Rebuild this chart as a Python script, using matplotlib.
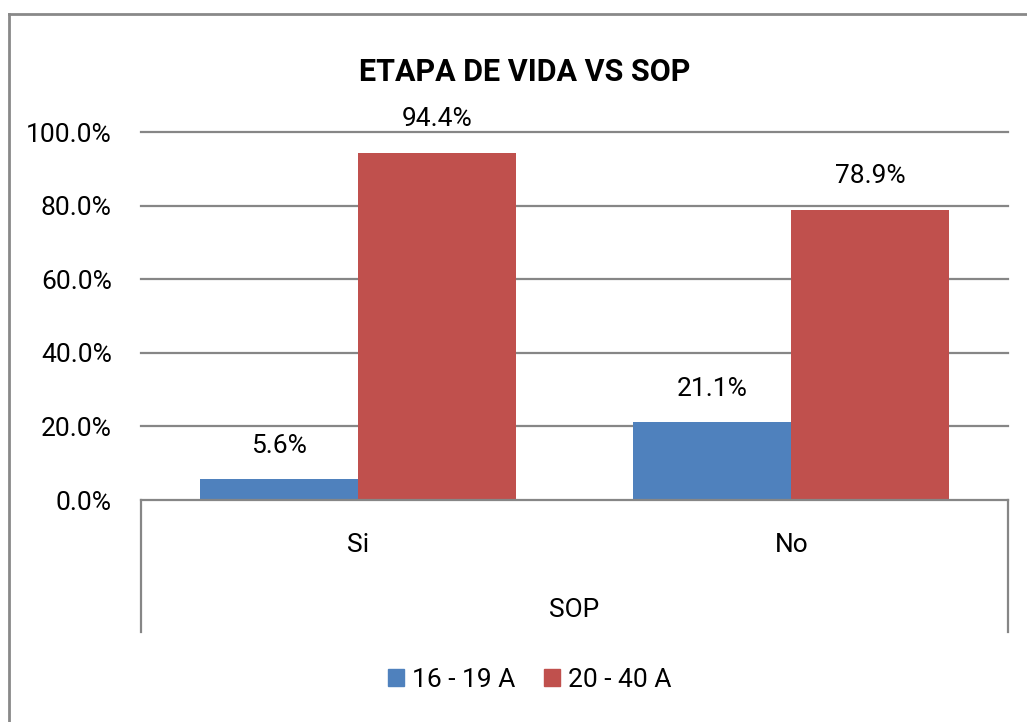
import matplotlib
matplotlib.use("Agg")
import matplotlib.pyplot as plt
from matplotlib.lines import Line2D
from matplotlib.patches import Patch

plt.rcParams['font.family'] = ['Roboto', 'DejaVu Sans']

categories = ['Si', 'No']
series = ['16 - 19 A', '20 - 40 A']
vals_1619 = [5.6, 21.1]
vals_2040 = [94.4, 78.9]
yticks = [0, 20, 40, 60, 80, 100]
colors = ['#4F81BD', '#C0504D']
grid_col = '#868686'

fig = plt.figure(figsize=(10.27, 7.22), dpi=100)
ax = fig.add_axes([141/1027, 1-500/722, (1008-141)/1027, (500-132)/722])

w = 0.3645
x = list(range(len(categories)))
for i, (vals, c) in enumerate(zip([vals_1619, vals_2040], colors)):
    xs = [xi + (i - 0.5) * w for xi in x]
    ax.bar(xs, vals, width=w, color=c, zorder=3, label=series[i])
    for xx, v in zip(xs, vals):
        ax.annotate(f'{v:.1f}%', (xx, v), xytext=(0, 24), textcoords='offset points',
                    ha='center', va='center', fontsize=19, color='black')

ax.set_xlim(-0.5, 1.5)
ax.set_ylim(0, 100)
ax.set_yticks(yticks)
ax.set_yticklabels([f'{t:.1f}%' for t in yticks], fontsize=19)
ax.tick_params(axis='y', length=0, pad=21)
ax.set_xticks([])
for s in ['left', 'right', 'top']:
    ax.spines[s].set_visible(False)
ax.spines['bottom'].set_color(grid_col)
ax.spines['bottom'].set_linewidth(1.6)
ax.spines['bottom'].set_zorder(4)
for t in yticks[1:]:
    ax.axhline(t, color=grid_col, lw=1.6, zorder=1, clip_on=False)

tr = ax.get_xaxis_transform()
for xi, c in zip(x, categories):
    ax.text(xi, -(545-500)/368, c, transform=tr, ha='center', va='center', fontsize=19)
ax.text(0.5, -(610-500)/368, 'SOP', transform=tr, ha='center', va='center', fontsize=19)
for xv in [-0.5, 1.5]:
    ax.plot([xv, xv], [0, -(632-500)/368], transform=tr, color=grid_col, lw=1.6, clip_on=False)

fig.text(525/1027, 1-72/722, 'ETAPA DE VIDA VS SOP', ha='center', va='center',
         fontsize=22, fontweight='bold')

handles = [Patch(color=c) for c in colors]
fig.legend(handles, series, loc='center', bbox_to_anchor=(530/1027, 1-680/722), ncol=2,
           frameon=False, fontsize=19, handlelength=0.6, handleheight=0.6,
           handletextpad=0.3, columnspacing=1.1)

# outer chart border (left and top only visible)
fig.add_artist(Line2D([9/1027, 9/1027], [0, 1-14/722], color='#898989', lw=2, transform=fig.transFigure))
fig.add_artist(Line2D([9/1027, 1], [1-14/722, 1-14/722], color='#898989', lw=2, transform=fig.transFigure))

fig.savefig('out.png', dpi=100, facecolor='white')
